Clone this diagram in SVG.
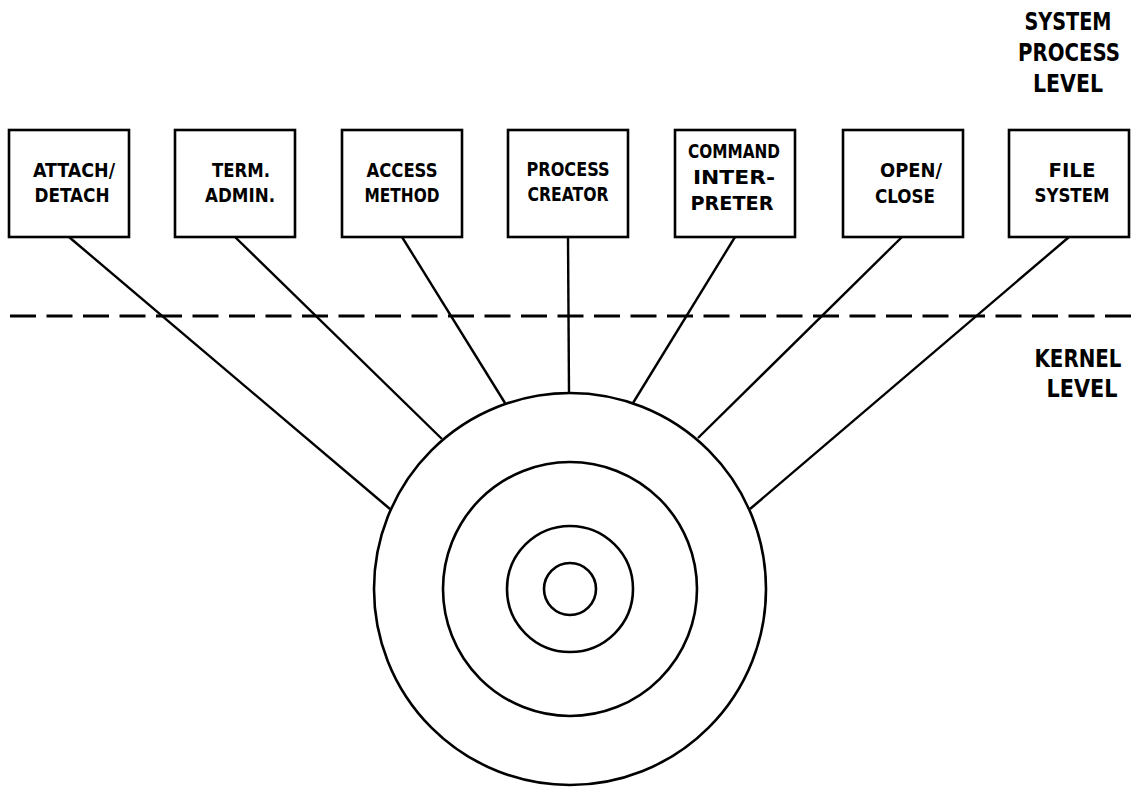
<svg xmlns="http://www.w3.org/2000/svg" width="1132" height="788" viewBox="0 0 1132 788">
  <style>
    .box { fill: #fff; stroke: #000; stroke-width: 2.6; }
    .t { font-family: "DejaVu Sans Condensed", "DejaVu Sans", sans-serif; font-weight: bold; font-size: 20px; fill: #000; text-anchor: middle; }
    .lbl { font-family: "DejaVu Sans Condensed", "DejaVu Sans", sans-serif; font-weight: bold; font-size: 25px; fill: #000; text-anchor: middle; }
    .wire { stroke: #000; stroke-width: 2.4; fill: none; }
    .ring { stroke: #000; stroke-width: 2.6; fill: none; }
    .level { stroke: #000; stroke-width: 3; stroke-dasharray: 26 10.5; fill: none; }
  </style>
  <rect width="1132" height="788" fill="#fff"/>

  <!-- level captions -->
  <g id="caption-system">
    <text class="lbl" x="1068" y="30" textLength="87" lengthAdjust="spacingAndGlyphs">SYSTEM</text>
    <text class="lbl" x="1069" y="61" textLength="102" lengthAdjust="spacingAndGlyphs">PROCESS</text>
    <text class="lbl" x="1068" y="92" textLength="70" lengthAdjust="spacingAndGlyphs">LEVEL</text>
  </g>
  <g id="caption-kernel">
    <text class="lbl" x="1078" y="367" textLength="87" lengthAdjust="spacingAndGlyphs">KERNEL</text>
    <text class="lbl" x="1082" y="397" textLength="71" lengthAdjust="spacingAndGlyphs">LEVEL</text>
  </g>

  <!-- boundary between the two levels -->
  <line class="level" x1="10" y1="316" x2="1132" y2="316"/>

  <!-- connectors from each system process to the kernel -->
  <g id="connectors">
    <line class="wire" x1="69" y1="237" x2="390" y2="509"/>
    <line class="wire" x1="235" y1="237" x2="442" y2="439"/>
    <line class="wire" x1="402" y1="237" x2="505" y2="403"/>
    <line class="wire" x1="568" y1="237" x2="569" y2="393"/>
    <line class="wire" x1="735" y1="237" x2="633" y2="403"/>
    <line class="wire" x1="902" y1="237" x2="698" y2="438"/>
    <line class="wire" x1="1069" y1="237" x2="750" y2="509"/>
  </g>

  <!-- kernel rings -->
  <g id="kernel">
    <circle class="ring" cx="570" cy="589" r="196"/>
    <circle class="ring" cx="570" cy="589" r="127"/>
    <circle class="ring" cx="570" cy="589" r="63"/>
    <circle class="ring" cx="570" cy="589" r="26"/>
  </g>

  <!-- system processes -->
  <g id="attach-detach">
    <rect class="box" x="9" y="130" width="120" height="107"/>
    <text class="t" x="74" y="177" textLength="82" lengthAdjust="spacingAndGlyphs">ATTACH/</text>
    <text class="t" x="72" y="202" textLength="75" lengthAdjust="spacingAndGlyphs">DETACH</text>
  </g>
  <g id="term-admin">
    <rect class="box" x="175" y="130" width="120" height="107"/>
    <text class="t" x="241" y="177" textLength="58" lengthAdjust="spacingAndGlyphs">TERM.</text>
    <text class="t" x="240" y="202" textLength="70" lengthAdjust="spacingAndGlyphs">ADMIN.</text>
  </g>
  <g id="access-method">
    <rect class="box" x="342" y="130" width="120" height="107"/>
    <text class="t" x="402" y="177" textLength="71" lengthAdjust="spacingAndGlyphs">ACCESS</text>
    <text class="t" x="402" y="202" textLength="75" lengthAdjust="spacingAndGlyphs">METHOD</text>
  </g>
  <g id="process-creator">
    <rect class="box" x="508" y="130" width="120" height="107"/>
    <text class="t" x="568" y="176" textLength="83" lengthAdjust="spacingAndGlyphs">PROCESS</text>
    <text class="t" x="568" y="201" textLength="81" lengthAdjust="spacingAndGlyphs">CREATOR</text>
  </g>
  <g id="command-interpreter">
    <rect class="box" x="675" y="130" width="120" height="107"/>
    <text class="t" x="734" y="158" textLength="92" lengthAdjust="spacingAndGlyphs">COMMAND</text>
    <text class="t" x="734" y="184" textLength="82" lengthAdjust="spacingAndGlyphs">INTER-</text>
    <text class="t" x="732" y="210" textLength="83" lengthAdjust="spacingAndGlyphs">PRETER</text>
  </g>
  <g id="open-close">
    <rect class="box" x="843" y="130" width="120" height="107"/>
    <text class="t" x="911" y="177" textLength="62" lengthAdjust="spacingAndGlyphs">OPEN/</text>
    <text class="t" x="905" y="203" textLength="60" lengthAdjust="spacingAndGlyphs">CLOSE</text>
  </g>
  <g id="file-system">
    <rect class="box" x="1009" y="130" width="120" height="107"/>
    <text class="t" x="1072" y="177" textLength="47" lengthAdjust="spacingAndGlyphs">FILE</text>
    <text class="t" x="1072" y="202" textLength="75" lengthAdjust="spacingAndGlyphs">SYSTEM</text>
  </g>
</svg>
